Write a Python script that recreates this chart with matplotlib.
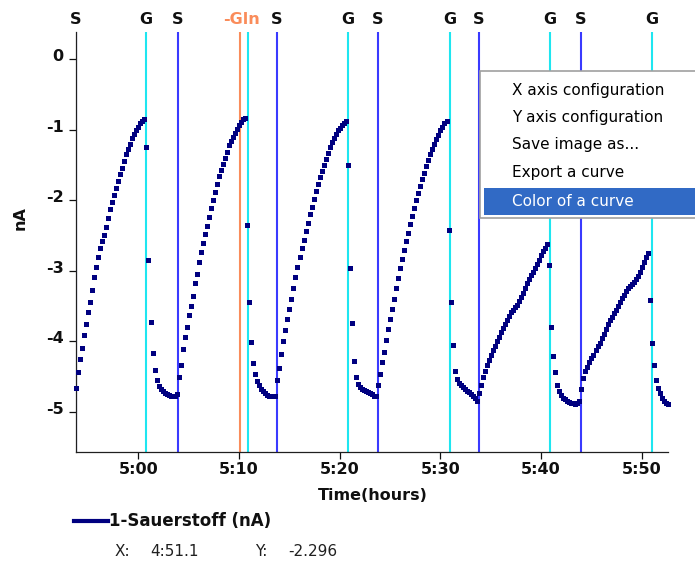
import matplotlib
matplotlib.use("Agg")
import matplotlib.pyplot as plt
import matplotlib.transforms as mtransforms
from matplotlib.lines import Line2D
from matplotlib.patches import Rectangle
from matplotlib.ticker import FuncFormatter
import numpy as np

plt.rcParams['axes.unicode_minus'] = False
plt.rcParams['font.family'] = ['DejaVu Sans']

# ---- recorded oxygen electrode signal (nA), one sample every 0.2 min ----
start_min = 293.81          # 4:53.8 expressed in minutes of the day
sample_step_min = 0.2

cycle1 = [-4.66, -4.44, -4.25, -4.09, -3.91, -3.76, -3.59, -3.44, -3.27, -3.09,
          -2.94, -2.81, -2.68, -2.58, -2.49, -2.38, -2.25, -2.13, -2.02, -1.92,
          -1.83, -1.73, -1.63, -1.54, -1.44, -1.35, -1.27, -1.20, -1.12, -1.06,
          -1.01, -0.96, -0.91, -0.87, -0.84, -1.25, -2.85, -3.72, -4.16, -4.40,
          -4.55, -4.63, -4.68, -4.71, -4.73, -4.75, -4.76, -4.77, -4.77, -4.78,
          -4.75]
cycle2 = [-4.50, -4.33, -4.11, -3.94, -3.80, -3.63, -3.50, -3.36, -3.17, -3.05,
          -2.88, -2.74, -2.60, -2.48, -2.37, -2.23, -2.11, -2.00, -1.88, -1.77,
          -1.66, -1.57, -1.49, -1.40, -1.31, -1.22, -1.16, -1.10, -1.04, -0.99,
          -0.93, -0.89, -0.85, -0.83, -2.35, -3.44, -4.01, -4.31, -4.47, -4.56,
          -4.62, -4.67, -4.71, -4.74, -4.76, -4.77, -4.78, -4.78, -4.77]
cycle3 = [-4.55, -4.38, -4.18, -3.99, -3.84, -3.68, -3.54, -3.40, -3.24, -3.09,
          -2.95, -2.81, -2.68, -2.56, -2.44, -2.32, -2.20, -2.09, -1.98, -1.87,
          -1.77, -1.67, -1.58, -1.50, -1.41, -1.33, -1.25, -1.18, -1.12, -1.06,
          -1.01, -0.97, -0.93, -0.90, -0.88, -1.50, -2.96, -3.74, -4.28, -4.50,
          -4.60, -4.65, -4.67, -4.69, -4.71, -4.72, -4.74, -4.75, -4.77, -4.78]
cycle4 = [-4.62, -4.46, -4.30, -4.15, -3.98, -3.83, -3.68, -3.54, -3.40, -3.25,
          -3.10, -2.96, -2.83, -2.70, -2.58, -2.46, -2.34, -2.22, -2.11, -2.00,
          -1.90, -1.80, -1.70, -1.61, -1.52, -1.43, -1.35, -1.27, -1.20, -1.13,
          -1.07, -1.01, -0.96, -0.91, -0.87, -2.42, -3.44, -4.05, -4.42, -4.53,
          -4.59, -4.62, -4.65, -4.68, -4.70, -4.72, -4.75, -4.78, -4.80, -4.84]
cycle5 = [-4.74, -4.62, -4.50, -4.42, -4.33, -4.26, -4.19, -4.12, -4.06, -4.00,
          -3.94, -3.87, -3.81, -3.76, -3.70, -3.64, -3.59, -3.55, -3.52, -3.49,
          -3.43, -3.37, -3.31, -3.24, -3.17, -3.11, -3.06, -3.01, -2.96, -2.91,
          -2.84, -2.78, -2.72, -2.67, -2.62, -2.92, -3.79, -4.21, -4.44, -4.62,
          -4.71, -4.76, -4.80, -4.82, -4.84, -4.86, -4.87, -4.88, -4.89, -4.87,
          -4.84]
cycle6 = [-4.68, -4.52, -4.42, -4.36, -4.30, -4.24, -4.19, -4.13, -4.07, -4.02,
          -3.96, -3.89, -3.82, -3.75, -3.70, -3.65, -3.60, -3.55, -3.50, -3.44,
          -3.39, -3.34, -3.29, -3.25, -3.22, -3.19, -3.16, -3.12, -3.08, -3.02,
          -2.95, -2.88, -2.81, -2.75, -3.41, -4.02, -4.34, -4.55, -4.66, -4.74,
          -4.80, -4.84, -4.87, -4.89]

# ---- event markers (minutes of the day) ----
s_events = [293.81, 303.94, 313.78, 323.81, 333.84, 343.97]
g_events = [300.76, 310.90, 320.83, 330.96, 340.90, 351.03]
g_labels = ["G", "", "G", "G", "G", "G"]   # second glucose pulse shares the -Gln caption
gln_event = 310.10

x_ticks = [300, 310, 320, 330, 340, 350]
y_ticks = [0, -1, -2, -3, -4, -5]

menu_items = ["X axis configuration", "Y axis configuration",
              "Save image as...", "Export a curve", "Color of a curve"]

signal = np.array(cycle1 + cycle2 + cycle3 + cycle4 + cycle5 + cycle6)
time_min = start_min + sample_step_min * np.arange(len(signal))

# ---- figure ----
W, H = 695, 562
fig = plt.figure(figsize=(W / 100, H / 100), dpi=100)
fig.patch.set_facecolor('white')


def fx(px):
    return px / W


def fy(py):
    return 1 - py / H


ax = fig.add_axes([fx(76), fy(452), fx(668) - fx(76), fy(32) - fy(452)])
ax.set_xlim(293.81, 352.61)
ax.set_ylim(-5.57, 0.387)

S_COL = '#3a3aff'
G_COL = '#1ee6f0'
GLN_COL = '#fa8c5a'
CURVE_COL = '#000080'

for t in s_events:
    ax.axvline(t, color=S_COL, lw=1.5, zorder=2)
for t in g_events:
    ax.axvline(t, color=G_COL, lw=1.5, zorder=2)
ax.axvline(gln_event, color=GLN_COL, lw=1.5, zorder=2)

ax.plot(time_min, signal, ls='none', marker='s', ms=3.6,
        mfc=CURVE_COL, mec=CURVE_COL, mew=0, clip_on=False, zorder=3)

# axes styling
for side in ('top', 'right'):
    ax.spines[side].set_visible(False)
ax.spines['bottom'].set_linewidth(0.9)
ax.spines['left'].set_linewidth(0.9)
ax.spines['bottom'].set_color('#202020')
ax.spines['left'].set_color('#202020')

ax.set_xticks(x_ticks)
ax.xaxis.set_major_formatter(FuncFormatter(lambda v, p: f"{int(v // 60)}:{int(round(v % 60)):02d}"))
ax.set_yticks(y_ticks)
ax.set_yticklabels([str(v) for v in y_ticks])
ax.tick_params(axis='x', direction='out', length=5, width=0.9, pad=2,
               labelsize=11.5, colors='#101010')
ax.tick_params(axis='y', direction='out', length=5, width=0.9, pad=4,
               labelsize=11.5, colors='#101010')
for lab in ax.get_xticklabels() + ax.get_yticklabels():
    lab.set_fontweight('bold')
shift = mtransforms.ScaledTranslation(0, -1.5 / 72, fig.dpi_scale_trans)
for lab in ax.get_yticklabels():
    lab.set_verticalalignment('baseline')
    lab.set_transform(lab.get_transform() + shift)

fig.text(fx(373), fy(495), "Time(hours)", ha='center', va='center',
         fontsize=11.5, fontweight='bold', color='#101010')
fig.text(fx(20), fy(218), "nA", ha='center', va='center', rotation=90,
         fontsize=11.5, fontweight='bold', color='#101010')

# event letters above the plot
top_tr = mtransforms.blended_transform_factory(ax.transData, fig.transFigure)
for t in s_events:
    fig.text(t, fy(20), "S", transform=top_tr, ha='center', va='center',
             fontsize=11.5, fontweight='bold', color='#101010')
for t, lab in zip(g_events, g_labels):
    if lab:
        fig.text(t, fy(20), lab, transform=top_tr, ha='center', va='center',
                 fontsize=11.5, fontweight='bold', color='#101010')
fig.text(gln_event + 0.1, fy(20), "-Gln", transform=top_tr, ha='center', va='center',
         fontsize=11.5, fontweight='bold', color=GLN_COL)

# legend row and cursor readout
fig.add_artist(Line2D([fx(74), fx(108)], [fy(521), fy(521)],
                      transform=fig.transFigure, color=CURVE_COL, lw=3))
fig.text(fx(109), fy(521), "1-Sauerstoff (nA)", ha='left', va='center',
         fontsize=12, fontweight='bold', color='#101010')
fig.text(fx(115), fy(552), "X:", ha='left', va='center', fontsize=11, color='#202020')
fig.text(fx(150), fy(552), "4:51.1", ha='left', va='center', fontsize=11, color='#202020')
fig.text(fx(255), fy(552), "Y:", ha='left', va='center', fontsize=11, color='#202020')
fig.text(fx(288), fy(552), "-2.296", ha='left', va='center', fontsize=11, color='#202020')

# context menu
fig.add_artist(Rectangle((fx(480), fy(218)), fx(710) - fx(480), fy(71) - fy(218),
                         transform=fig.transFigure, facecolor='white',
                         edgecolor='#a0a0a0', lw=1.2, zorder=10))
fig.add_artist(Rectangle((fx(484), fy(215)), fx(710) - fx(484), fy(188) - fy(215),
                         transform=fig.transFigure, facecolor='#316ac5',
                         edgecolor='none', zorder=11))
item_y = [90, 117, 145, 173, 201]
for i, (txt, yy) in enumerate(zip(menu_items, item_y)):
    col = 'white' if i == len(menu_items) - 1 else '#000000'
    fig.text(fx(512), fy(yy), txt, ha='left', va='center', fontsize=11,
             color=col, zorder=12)

fig.savefig("out.png", dpi=100, facecolor='white')
